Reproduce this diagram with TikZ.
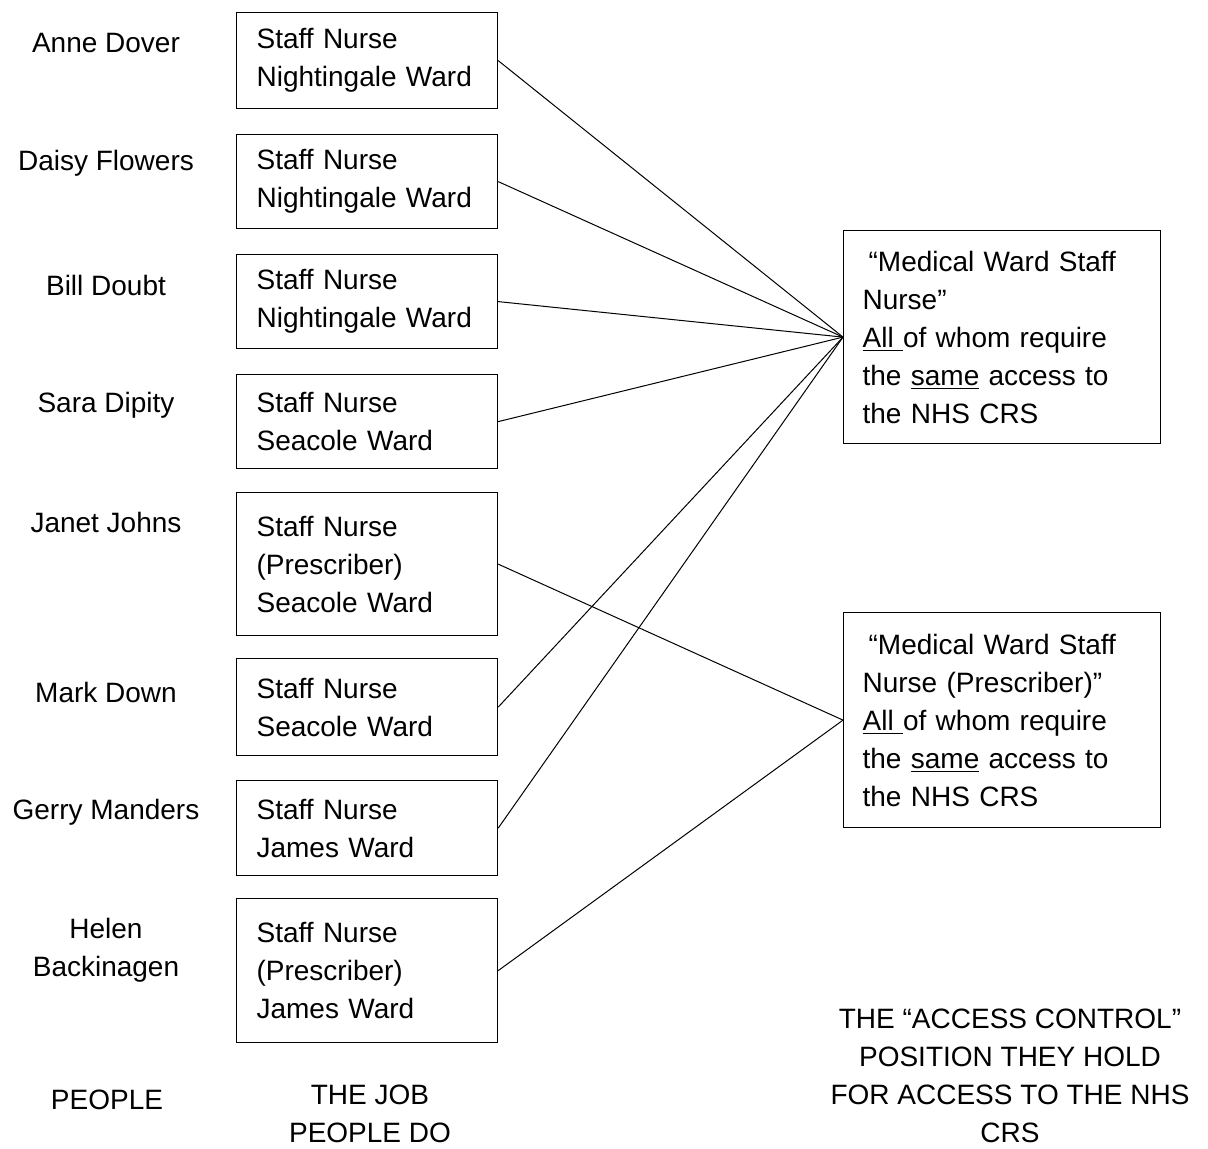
\documentclass[tikz,border=0pt]{standalone}
\usepackage{fontspec}
\setmainfont{Liberation Sans}
\usetikzlibrary{positioning}

\tikzset{
    txt/.style = {font = \fontsize{14}{19}\selectfont},
    person/.style = {txt, align = center, inner sep = 0pt},
    jobbox/.style = {txt, draw, line width = 0.6pt, anchor = north west, text width = 110.5pt, inner xsep = 10pt, align = left},
    accessbox/.style = {txt, draw, line width = 0.6pt, anchor = north west, text width = 139.5pt, inner xsep = 9.5pt, align = left},
    caption/.style = {txt, align = center, inner sep = 0pt},
    link/.style = {line width = 0.5pt}
}

\begin{document}
\begin{tikzpicture}[x = 0.5pt, y = -0.5pt]
        \def\jobx{236};
        \def\accx{843};
        \useasboundingbox (0,0) rectangle (1208,1148);

        % people
        \node[person] (anne) at (106, 43){Anne Dover};
        \node[person] (daisy) at (106, 163){Daisy Flowers};
        \node[person] (bill) at (106, 285){Bill Doubt};
        \node[person] (sara) at (106, 405){Sara Dipity};
        \node[person] (janet) at (106, 522){Janet Johns};
        \node[person] (mark) at (106, 692){Mark Down};
        \node[person] (gerry) at (106, 812){Gerry Manders};
        \node[person] (helen) at (106, 950){Helen\\Backinagen};

        % the jobs
        \node[jobbox, minimum height = 48pt] (jobanne) at (\jobx, 12){Staff Nurse\\Nightingale Ward};
        \node[jobbox, minimum height = 47pt] (jobdaisy) at (\jobx, 134){Staff Nurse\\Nightingale Ward};
        \node[jobbox, minimum height = 47pt] (jobbill) at (\jobx, 254){Staff Nurse\\Nightingale Ward};
        \node[jobbox, minimum height = 47pt] (jobsara) at (\jobx, 374){Staff Nurse\\Seacole Ward};
        \node[jobbox, minimum height = 71.5pt] (jobjanet) at (\jobx, 492){Staff Nurse\\(Prescriber)\\Seacole Ward};
        \node[jobbox, minimum height = 48.5pt] (jobmark) at (\jobx, 658){Staff Nurse\\Seacole Ward};
        \node[jobbox, minimum height = 47.5pt] (jobgerry) at (\jobx, 780){Staff Nurse\\James Ward};
        \node[jobbox, minimum height = 72pt] (jobhelen) at (\jobx, 898){Staff Nurse\\(Prescriber)\\James Ward};

        % access control positions
        \node[accessbox, minimum height = 106.5pt] (nurse) at (\accx, 230){
            \hspace{3pt}“Medical Ward Staff\\
            Nurse”\\
            \underline{All~}of whom require\\
            the \underline{same} access to\\
            the NHS CRS
        };
        \node[accessbox, minimum height = 107.5pt] (prescriber) at (\accx, 612){
            \hspace{3pt}“Medical Ward Staff\\
            Nurse (Prescriber)”\\
            \underline{All~}of whom require\\
            the \underline{same} access to\\
            the NHS CRS
        };

        % column captions
        \node[caption] (peoplecap) at (107, 1100){PEOPLE};
        \node[caption] (jobcap) at (370, 1114){THE JOB\\PEOPLE DO};
        \node[caption] (accesscap) at (1010, 1076){THE “ACCESS CONTROL”\\POSITION THEY HOLD\\FOR ACCESS TO THE NHS\\CRS};

        \draw[link] (jobanne.east) -- (nurse.west);
        \draw[link] (jobdaisy.east) -- (nurse.west);
        \draw[link] (jobbill.east) -- (nurse.west);
        \draw[link] (jobsara.east) -- (nurse.west);
        \draw[link] (jobmark.east) -- (nurse.west);
        \draw[link] (jobgerry.east) -- (nurse.west);
        \draw[link] (jobjanet.east) -- (prescriber.west);
        \draw[link] (jobhelen.east) -- (prescriber.west);
    \end{tikzpicture}
\end{document}
